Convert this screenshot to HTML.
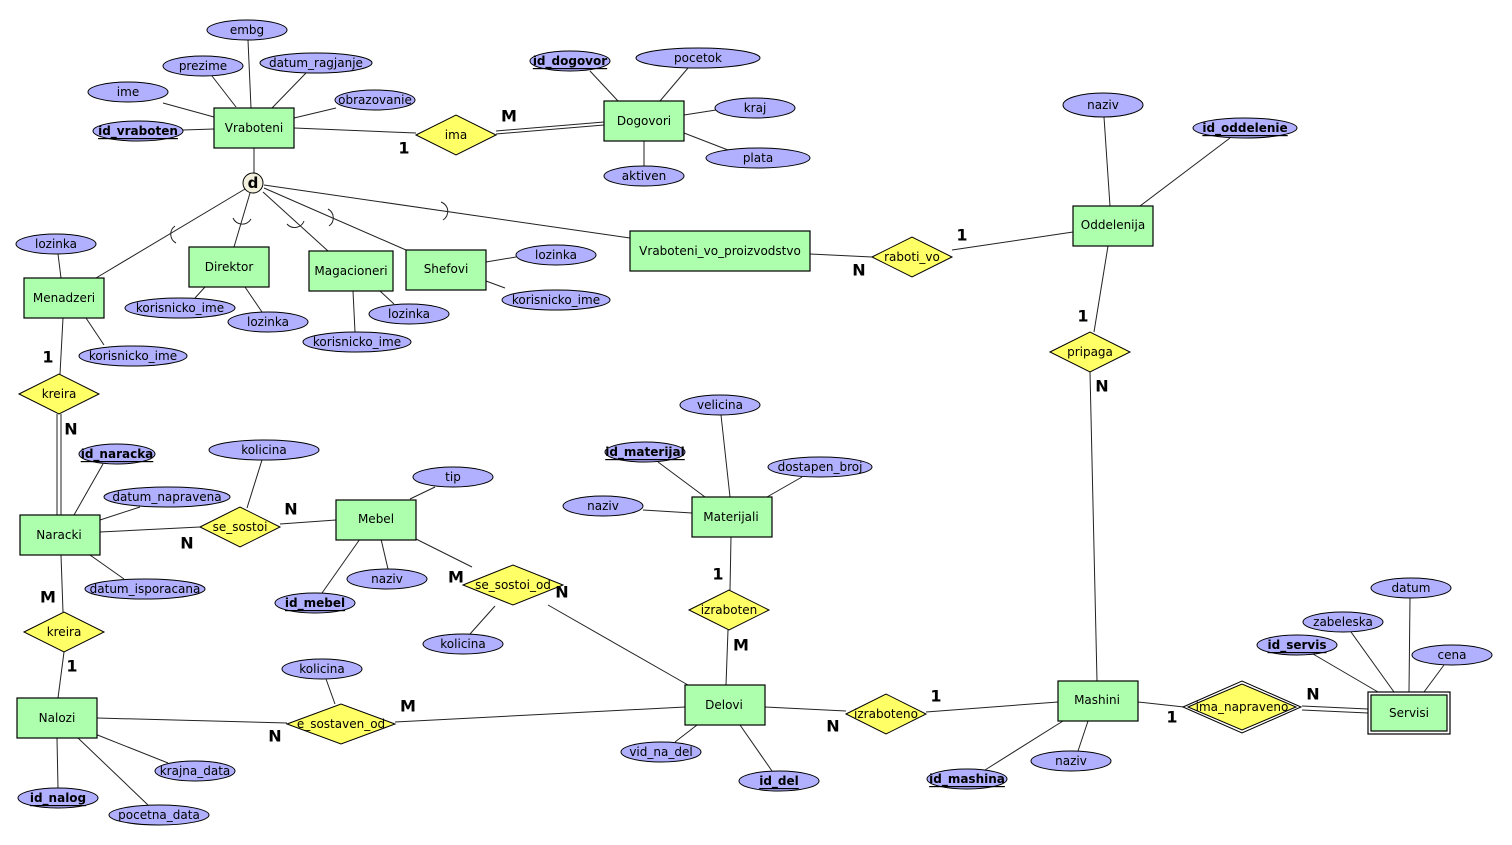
<!DOCTYPE html>
<html><head><meta charset="utf-8"><style>
html,body{margin:0;padding:0;background:#fff;}
svg{display:block}
text{font-family:"DejaVu Sans","Liberation Sans",sans-serif;font-size:12px;fill:#000;text-anchor:middle;dominant-baseline:central}
.e{fill:#aaf0aa;fill:#adffad;stroke:#000;stroke-width:1.2}
.a{fill:#b0b0ff;stroke:#000;stroke-width:1}
.r{fill:#ffff66;stroke:#000;stroke-width:1}
.l{stroke:#222;stroke-width:1;fill:none}
.k{font-weight:bold;text-decoration:underline}
.c{font-weight:bold;font-size:16px}
</style></head><body>
<svg width="1512" height="845" viewBox="0 0 1512 845" xmlns="http://www.w3.org/2000/svg">
<g class="l">
<!-- Vraboteni -->
<line x1="163" y1="103" x2="214" y2="117"/>
<line x1="212" y1="76" x2="236" y2="107"/>
<line x1="248" y1="40" x2="251" y2="108"/>
<line x1="306" y1="73" x2="272" y2="108"/>
<line x1="336" y1="108" x2="294" y2="118"/>
<line x1="183" y1="130" x2="214" y2="129"/>
<line x1="294" y1="128" x2="416" y2="133"/>
<line x1="254" y1="148" x2="254" y2="173"/>
<line x1="496" y1="131" x2="604" y2="122"/>
<line x1="496" y1="134" x2="604" y2="125"/>
<line x1="590" y1="71" x2="618" y2="101"/>
<line x1="688" y1="68" x2="660" y2="101"/>
<line x1="716" y1="110" x2="684" y2="115"/>
<line x1="728" y1="150" x2="684" y2="133"/>
<line x1="644" y1="166" x2="644" y2="141"/>
<!-- d lines -->
<line x1="245" y1="189" x2="96" y2="278"/>
<line x1="250" y1="193" x2="234" y2="247"/>
<line x1="263" y1="192" x2="328" y2="251"/>
<line x1="264" y1="188" x2="406" y2="250"/>
<line x1="264" y1="185" x2="630" y2="238"/>
<path d="M175,226 A10,10 0 0 0 176,243"/>
<path d="M233,218 A10,10 0 0 0 251,219"/>
<path d="M287,224 A10,10 0 0 0 304,221"/>
<path d="M328,209 A10,10 0 0 1 329,226"/>
<path d="M441,202 A10,10 0 0 1 443,220"/>
<!-- subclasses -->
<line x1="58" y1="254" x2="61" y2="278"/>
<line x1="86" y1="318" x2="104" y2="345"/>
<line x1="63" y1="318" x2="60" y2="374"/>
<line x1="205" y1="287" x2="195" y2="298"/>
<line x1="245" y1="287" x2="262" y2="312"/>
<line x1="353" y1="291" x2="355" y2="332"/>
<line x1="380" y1="291" x2="394" y2="304"/>
<line x1="486" y1="262" x2="516" y2="257"/>
<line x1="486" y1="281" x2="505" y2="288"/>
<line x1="810" y1="254" x2="872" y2="257"/>
<line x1="952" y1="250" x2="1073" y2="232"/>
<line x1="1104" y1="117" x2="1110" y2="206"/>
<line x1="1230" y1="138" x2="1140" y2="206"/>
<line x1="1108" y1="246" x2="1094" y2="332"/>
<line x1="1090" y1="372" x2="1097" y2="681"/>
<!-- kreira/naracki -->
<line x1="57" y1="414" x2="57" y2="515"/>
<line x1="61" y1="414" x2="61" y2="515"/>
<line x1="103" y1="464" x2="74" y2="515"/>
<line x1="140" y1="507" x2="100" y2="520"/>
<line x1="124" y1="579" x2="90" y2="555"/>
<line x1="100" y1="532" x2="200" y2="527"/>
<line x1="61" y1="555" x2="63" y2="612"/>
<line x1="262" y1="460" x2="247" y2="508"/>
<line x1="280" y1="524" x2="336" y2="520"/>
<line x1="435" y1="487" x2="410" y2="499"/>
<line x1="381" y1="539" x2="388" y2="569"/>
<line x1="360" y1="539" x2="322" y2="593"/>
<line x1="416" y1="539" x2="472" y2="567"/>
<line x1="495" y1="606" x2="470" y2="634"/>
<line x1="548" y1="605" x2="688" y2="685"/>
<!-- Materijali -->
<line x1="721" y1="415" x2="730" y2="497"/>
<line x1="658" y1="462" x2="705" y2="497"/>
<line x1="802" y1="477" x2="767" y2="497"/>
<line x1="643" y1="510" x2="692" y2="513"/>
<line x1="731" y1="537" x2="730" y2="590"/>
<line x1="728" y1="630" x2="726" y2="685"/>
<!-- Delovi -->
<line x1="697" y1="725" x2="675" y2="742"/>
<line x1="740" y1="725" x2="772" y2="771"/>
<line x1="765" y1="707" x2="846" y2="711"/>
<line x1="685" y1="707" x2="395" y2="722"/>
<line x1="926" y1="712" x2="1058" y2="702"/>
<!-- Mashini -->
<line x1="1063" y1="721" x2="985" y2="770"/>
<line x1="1088" y1="721" x2="1078" y2="751"/>
<line x1="1138" y1="702" x2="1184" y2="707"/>
<line x1="1302" y1="706" x2="1368" y2="709"/>
<line x1="1302" y1="710" x2="1368" y2="713"/>
<line x1="1313" y1="654" x2="1378" y2="692"/>
<line x1="1351" y1="632" x2="1394" y2="692"/>
<line x1="1410" y1="598" x2="1409" y2="692"/>
<line x1="1444" y1="665" x2="1424" y2="692"/>
<!-- Nalozi -->
<line x1="64" y1="652" x2="58" y2="698"/>
<line x1="97" y1="718" x2="287" y2="723"/>
<line x1="326" y1="679" x2="335" y2="704"/>
<line x1="95" y1="734" x2="168" y2="763"/>
<line x1="78" y1="738" x2="148" y2="805"/>
<line x1="57" y1="738" x2="58" y2="788"/>
</g>

<!-- entities -->
<g>
<rect class="e" x="214" y="108" width="80" height="40"/><text x="254" y="128">Vraboteni</text>
<rect class="e" x="604" y="101" width="80" height="40"/><text x="644" y="121">Dogovori</text>
<rect class="e" x="24" y="278" width="80" height="40"/><text x="64" y="298">Menadzeri</text>
<rect class="e" x="189" y="247" width="80" height="40"/><text x="229" y="267">Direktor</text>
<rect class="e" x="309" y="251" width="84" height="40"/><text x="351" y="271">Magacioneri</text>
<rect class="e" x="406" y="250" width="80" height="40"/><text x="446" y="269">Shefovi</text>
<rect class="e" x="630" y="231" width="180" height="40"/><text x="720" y="251">Vraboteni_vo_proizvodstvo</text>
<rect class="e" x="1073" y="206" width="80" height="40"/><text x="1113" y="225">Oddelenija</text>
<rect class="e" x="20" y="515" width="80" height="40"/><text x="59" y="535">Naracki</text>
<rect class="e" x="336" y="500" width="80" height="40"/><text x="376" y="519">Mebel</text>
<rect class="e" x="692" y="497" width="80" height="40"/><text x="731" y="517">Materijali</text>
<rect class="e" x="685" y="685" width="80" height="40"/><text x="724" y="705">Delovi</text>
<rect class="e" x="17" y="698" width="80" height="40"/><text x="57" y="718">Nalozi</text>
<rect class="e" x="1058" y="681" width="80" height="40"/><text x="1097" y="700">Mashini</text>
<rect x="1368" y="692" width="82" height="42" fill="#fff" stroke="#000" stroke-width="1.2"/>
<rect class="e" x="1371" y="695" width="76" height="36"/><text x="1409" y="713">Servisi</text>
</g>

<!-- relationships -->
<g>
<polygon class="r" points="416,135 456,115 496,135 456,155"/><text x="456" y="135">ima</text>
<polygon class="r" points="872,257 912,237 952,257 912,277"/><text x="912" y="257">raboti_vo</text>
<polygon class="r" points="1050,352 1090,332 1130,352 1090,372"/><text x="1090" y="352">pripaga</text>
<polygon class="r" points="19,394 59,374 99,394 59,414"/><text x="59" y="394">kreira</text>
<polygon class="r" points="200,527 240,507 280,527 240,547"/><text x="240" y="527">se_sostoi</text>
<polygon class="r" points="463,585 513,565 563,585 513,605"/><text x="513" y="585">se_sostoi_od</text>
<polygon class="r" points="689,610 729,590 769,610 729,630"/><text x="729" y="610">izraboten</text>
<polygon class="r" points="24,632 64,612 104,632 64,652"/><text x="64" y="632">kreira</text>
<polygon class="r" points="287,724 341,704 395,724 341,744"/><text x="341" y="724">e_sostaven_od</text>
<polygon class="r" points="846,714 886,694 926,714 886,734"/><text x="886" y="714">izraboteno</text>
<polygon points="1183,707 1242,681 1301,707 1242,733" fill="#fff" stroke="#000"/>
<polygon class="r" points="1188,707 1242,684 1296,707 1242,730"/><text x="1242" y="707">ima_napraveno</text>
</g>

<!-- d circle -->
<circle cx="253" cy="183" r="10" fill="#f2efdc" stroke="#000"/>
<text x="253" y="183" style="font-weight:bold;font-size:15px">d</text>

<!-- attributes -->
<g>
<ellipse class="a" cx="247" cy="30" rx="40" ry="10"/><text x="247" y="30">embg</text>
<ellipse class="a" cx="203" cy="66" rx="40" ry="10"/><text x="203" y="66">prezime</text>
<ellipse class="a" cx="316" cy="63" rx="56" ry="10"/><text x="316" y="63">datum_ragjanje</text>
<ellipse class="a" cx="128" cy="92" rx="40" ry="10"/><text x="128" y="92">ime</text>
<ellipse class="a" cx="375" cy="100" rx="40" ry="10"/><text x="375" y="100">obrazovanie</text>
<ellipse class="a" cx="138" cy="131" rx="45" ry="10"/><text class="k" x="138" y="131">id_vraboten</text>
<ellipse class="a" cx="570" cy="61" rx="40" ry="10"/><text class="k" x="570" y="61">id_dogovor</text>
<ellipse class="a" cx="698" cy="58" rx="62" ry="10"/><text x="698" y="58">pocetok</text>
<ellipse class="a" cx="755" cy="108" rx="40" ry="10"/><text x="755" y="108">kraj</text>
<ellipse class="a" cx="758" cy="158" rx="52" ry="10"/><text x="758" y="158">plata</text>
<ellipse class="a" cx="644" cy="176" rx="40" ry="10"/><text x="644" y="176">aktiven</text>
<ellipse class="a" cx="1103" cy="105" rx="40" ry="12"/><text x="1103" y="105">naziv</text>
<ellipse class="a" cx="1245" cy="128" rx="52" ry="10"/><text class="k" x="1245" y="128">id_oddelenie</text>
<ellipse class="a" cx="56" cy="244" rx="40" ry="10"/><text x="56" y="244">lozinka</text>
<ellipse class="a" cx="180" cy="308" rx="55" ry="10"/><text x="180" y="308">korisnicko_ime</text>
<ellipse class="a" cx="268" cy="322" rx="40" ry="10"/><text x="268" y="322">lozinka</text>
<ellipse class="a" cx="133" cy="356" rx="54" ry="10"/><text x="133" y="356">korisnicko_ime</text>
<ellipse class="a" cx="357" cy="342" rx="54" ry="10"/><text x="357" y="342">korisnicko_ime</text>
<ellipse class="a" cx="409" cy="314" rx="40" ry="10"/><text x="409" y="314">lozinka</text>
<ellipse class="a" cx="556" cy="255" rx="40" ry="10"/><text x="556" y="255">lozinka</text>
<ellipse class="a" cx="556" cy="300" rx="54" ry="10"/><text x="556" y="300">korisnicko_ime</text>
<ellipse class="a" cx="264" cy="450" rx="55" ry="10"/><text x="264" y="450">kolicina</text>
<ellipse class="a" cx="117" cy="454" rx="38" ry="10"/><text class="k" x="117" y="454">id_naracka</text>
<ellipse class="a" cx="167" cy="497" rx="63" ry="10"/><text x="167" y="497">datum_napravena</text>
<ellipse class="a" cx="145" cy="589" rx="60" ry="10"/><text x="145" y="589">datum_isporacana</text>
<ellipse class="a" cx="453" cy="477" rx="40" ry="10"/><text x="453" y="477">tip</text>
<ellipse class="a" cx="387" cy="579" rx="40" ry="10"/><text x="387" y="579">naziv</text>
<ellipse class="a" cx="315" cy="603" rx="40" ry="10"/><text class="k" x="315" y="603">id_mebel</text>
<ellipse class="a" cx="463" cy="644" rx="40" ry="10"/><text x="463" y="644">kolicina</text>
<ellipse class="a" cx="720" cy="405" rx="40" ry="10"/><text x="720" y="405">velicina</text>
<ellipse class="a" cx="645" cy="452" rx="40" ry="10"/><text class="k" x="645" y="452">id_materijal</text>
<ellipse class="a" cx="820" cy="467" rx="52" ry="10"/><text x="820" y="467">dostapen_broj</text>
<ellipse class="a" cx="603" cy="506" rx="40" ry="10"/><text x="603" y="506">naziv</text>
<ellipse class="a" cx="661" cy="752" rx="40" ry="10"/><text x="661" y="752">vid_na_del</text>
<ellipse class="a" cx="779" cy="781" rx="40" ry="10"/><text class="k" x="779" y="781">id_del</text>
<ellipse class="a" cx="322" cy="669" rx="40" ry="10"/><text x="322" y="669">kolicina</text>
<ellipse class="a" cx="195" cy="771" rx="40" ry="10"/><text x="195" y="771">krajna_data</text>
<ellipse class="a" cx="58" cy="798" rx="40" ry="10"/><text class="k" x="58" y="798">id_nalog</text>
<ellipse class="a" cx="159" cy="815" rx="50" ry="10"/><text x="159" y="815">pocetna_data</text>
<ellipse class="a" cx="967" cy="779" rx="40" ry="10"/><text class="k" x="967" y="779">id_mashina</text>
<ellipse class="a" cx="1071" cy="761" rx="40" ry="10"/><text x="1071" y="761">naziv</text>
<ellipse class="a" cx="1297" cy="645" rx="40" ry="10"/><text class="k" x="1297" y="645">id_servis</text>
<ellipse class="a" cx="1343" cy="622" rx="40" ry="10"/><text x="1343" y="622">zabeleska</text>
<ellipse class="a" cx="1411" cy="588" rx="40" ry="10"/><text x="1411" y="588">datum</text>
<ellipse class="a" cx="1452" cy="655" rx="40" ry="10"/><text x="1452" y="655">cena</text>
</g>

<!-- cardinalities -->
<g>
<text class="c" x="404" y="148">1</text>
<text class="c" x="509" y="116">M</text>
<text class="c" x="962" y="235">1</text>
<text class="c" x="859" y="270">N</text>
<text class="c" x="1083" y="316">1</text>
<text class="c" x="1102" y="386">N</text>
<text class="c" x="48" y="357">1</text>
<text class="c" x="71" y="429">N</text>
<text class="c" x="291" y="509">N</text>
<text class="c" x="187" y="543">N</text>
<text class="c" x="456" y="577">M</text>
<text class="c" x="562" y="592">N</text>
<text class="c" x="718" y="574">1</text>
<text class="c" x="741" y="645">M</text>
<text class="c" x="48" y="597">M</text>
<text class="c" x="72" y="666">1</text>
<text class="c" x="408" y="706">M</text>
<text class="c" x="275" y="736">N</text>
<text class="c" x="936" y="696">1</text>
<text class="c" x="833" y="726">N</text>
<text class="c" x="1172" y="717">1</text>
<text class="c" x="1313" y="694">N</text>
</g>
</svg>
</body></html>
